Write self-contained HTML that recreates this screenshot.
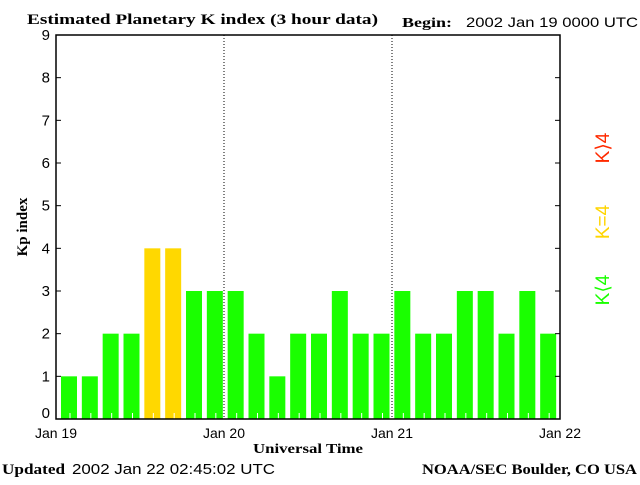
<!DOCTYPE html>
<html><head><meta charset="utf-8"><style>
body{margin:0;background:#fff;}
svg text{font-family:"Liberation Sans",sans-serif;}
.ser{font-family:"Liberation Serif",serif;font-weight:bold;}
</style></head><body>
<svg width="640" height="480" xmlns="http://www.w3.org/2000/svg">
<rect width="640" height="480" fill="#fff"/>
<text class="ser" x="27" y="24" font-size="15" textLength="351" lengthAdjust="spacingAndGlyphs">Estimated Planetary K index (3 hour data)</text>
<text class="ser" x="402" y="27" font-size="14" textLength="50" lengthAdjust="spacingAndGlyphs">Begin:</text>
<text x="466" y="27" font-size="14" textLength="172" lengthAdjust="spacingAndGlyphs">2002 Jan 19 0000 UTC</text>
<g id="bars"></g>
<g id="grid"></g>
<rect x="56" y="35" width="504" height="384" fill="none" stroke="#000" stroke-width="1.5"/>
<g id="yaxis"></g>
<g id="xaxis"></g>
<text class="ser" x="27" y="227" font-size="15" transform="rotate(-90 27 227)" text-anchor="middle">Kp index</text>
<text class="ser" x="253" y="453" font-size="14" textLength="110" lengthAdjust="spacingAndGlyphs">Universal Time</text>
<text class="ser" x="2" y="474" font-size="15" textLength="63" lengthAdjust="spacingAndGlyphs">Updated</text>
<text x="72" y="474" font-size="15" textLength="203" lengthAdjust="spacingAndGlyphs">2002 Jan 22 02:45:02 UTC</text>
<text class="ser" x="422" y="474" font-size="15" textLength="215" lengthAdjust="spacingAndGlyphs">NOAA/SEC Boulder, CO USA</text>
<text x="609" y="290" font-size="19" fill="#1aff00" transform="rotate(-90 609 290)" text-anchor="middle">K⟨4</text>
<text x="609" y="222" font-size="19" fill="#ffd500" transform="rotate(-90 609 222)" text-anchor="middle">K=4</text>
<text x="609" y="148" font-size="19" fill="#ff2a00" transform="rotate(-90 609 148)" text-anchor="middle">K⟩4</text>
</svg>
<script>
const kpValues=[1,1,2,2,4,4,3,3,3,2,1,2,2,3,2,2,3,2,2,3,3,2,3,2];
const yTicks=[0,1,2,3,4,5,6,7,8,9];
const dayLabels=["Jan 19","Jan 20","Jan 21","Jan 22"];
const NS="http://www.w3.org/2000/svg";
const X0=56,X1=560,Y0=419,Y1=35;
const B0=57,B1=557;
const nSlots=kpValues.length;
const xs=i=>B0+(B1-B0)*i/nSlots;
const ys=v=>Y0-(Y0-Y1)*v/9;
function mk(t,a,p){const e=document.createElementNS(NS,t);for(const k in a)e.setAttribute(k,a[k]);p.appendChild(e);return e;}
const bars=document.getElementById('bars');
kpValues.forEach((v,i)=>{
  const c=v<4?'#1aff00':(v==4?'#ffd800':'#ff2a00');
  const r=mk('rect',{x:xs(i)+4,y:ys(v),width:16,height:Y0-ys(v),fill:c},bars);
  
  
  const t=mk('line',{x1:xs(i)+13,x2:xs(i)+13,y1:Y0-6,y2:Y0,stroke:'#fff','stroke-width':1},bars);
  
  
});
const grid=document.getElementById('grid');
[1,2].forEach(d=>{
  const x=X0+(X1-X0)*d/3;
  const l=mk('line',{x1:x,x2:x,y1:Y1,y2:Y0,stroke:'#000','stroke-dasharray':'1,2'},grid);
  
  
});
const ya=document.getElementById('yaxis');
yTicks.forEach(v=>{
  const y=ys(v);
  const l=mk('line',{x1:X0,x2:X0+5,y1:y,y2:y,stroke:'#000'},ya);
  
  
  const l2=mk('line',{x1:X1-5,x2:X1,y1:y,y2:y,stroke:'#000'},ya);
  
  
  const t=mk('text',{x:50,y:(v==0?y-1:y+5),'font-size':15,'text-anchor':'end'},ya);
  t.textContent=v;
  
  
});
const xa=document.getElementById('xaxis');
dayLabels.forEach((s,d)=>{
  const t=mk('text',{x:X0+(X1-X0)*d/3,y:438,'font-size':14,'text-anchor':'middle'},xa);
  t.textContent=s;
  
  
});
</script>
</body></html>
